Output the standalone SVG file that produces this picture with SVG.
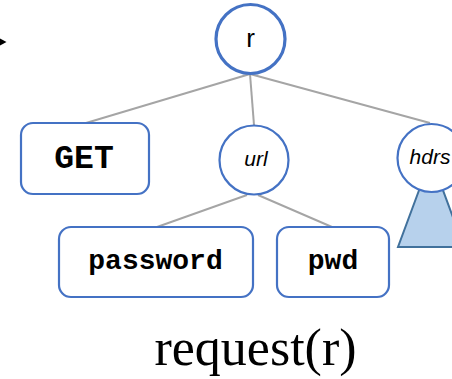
<svg xmlns="http://www.w3.org/2000/svg" width="452" height="379" viewBox="0 0 452 379">
  <style>
    .edge { stroke: #A5A5A5; stroke-width: 2; fill: none; }
    .node { fill: #FFFFFF; stroke: #4472C4; stroke-width: 2.2; }
    .mono { font-family: "Courier New", "Liberation Mono", monospace; font-weight: bold; fill: #000; text-anchor: middle; }
    .ital { font-family: "Liberation Sans", Arial, sans-serif; font-style: italic; font-size: 21px; fill: #000; text-anchor: middle; }
  </style>
  <rect width="452" height="379" fill="#FFFFFF"/>

  <!-- connectors -->
  <g id="connectors">
    <line class="edge" x1="250" y1="74" x2="86" y2="123"/>
    <line class="edge" x1="250" y1="74" x2="254" y2="125"/>
    <line class="edge" x1="250" y1="74" x2="430" y2="123"/>
    <line class="edge" x1="247" y1="195" x2="157" y2="227"/>
    <line class="edge" x1="258" y1="195" x2="332" y2="227"/>
    <polygon points="0,38.5 6.5,42 0,45.5" fill="#000000"/>
  </g>

  <!-- subtree under hdrs -->
  <g id="hdrs-subtree">
    <polygon points="431,158 398,247 464,247" fill="#B7D1EC" stroke="#41719C" stroke-width="2"/>
  </g>

  <g id="root">
    <circle cx="250.5" cy="39" r="34.5" fill="#FFFFFF" stroke="#4472C4" stroke-width="3.2"/>
    <text x="250.5" y="47" font-family="Liberation Sans, Arial, sans-serif" font-size="26" text-anchor="middle" fill="#000">r</text>
  </g>

  <g id="get">
    <rect class="node" x="21" y="123" width="128" height="71" rx="12"/>
    <text class="mono" x="84" y="168" font-size="33">GET</text>
  </g>

  <g id="url">
    <circle class="node" cx="254" cy="160" r="34.5"/>
    <text class="ital" x="256" y="166">url</text>
  </g>

  <g id="hdrs">
    <circle class="node" cx="431.5" cy="158" r="34"/>
    <text class="ital" x="430" y="164">hdrs</text>
  </g>

  <g id="password">
    <rect class="node" x="59" y="227" width="194" height="70" rx="12"/>
    <text class="mono" x="155.5" y="269" font-size="28">password</text>
  </g>

  <g id="pwd">
    <rect class="node" x="277" y="227" width="112" height="70" rx="12"/>
    <text class="mono" x="333" y="269" font-size="28">pwd</text>
  </g>

  <text x="255.5" y="365" font-family="Liberation Serif, 'Times New Roman', serif" font-size="52" text-anchor="middle" fill="#000">request(r)</text>
</svg>
